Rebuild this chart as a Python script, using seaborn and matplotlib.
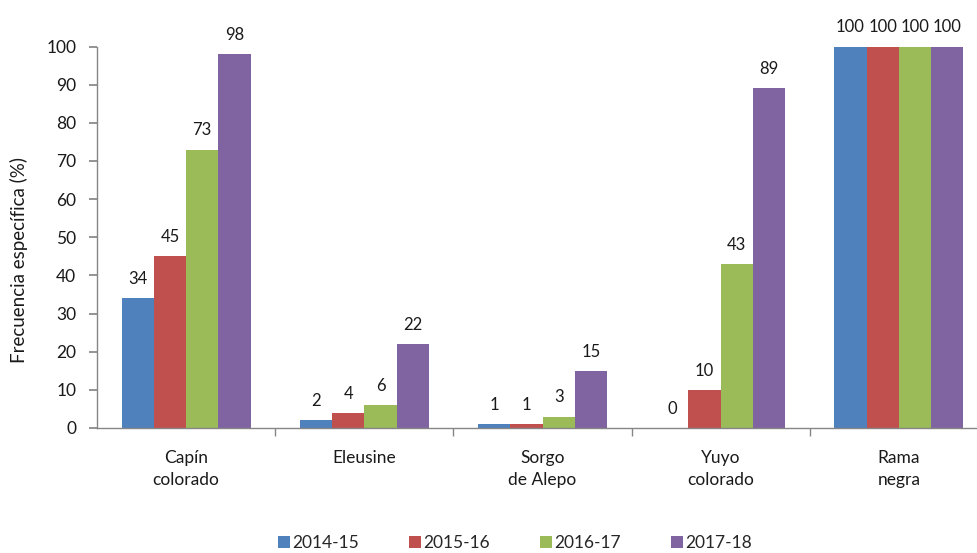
import pandas as pd
import matplotlib.pyplot as plt
import seaborn as sns

# Datos
especies = ['Capín\ncolorado', 'Eleusine', 'Sorgo\nde Alepo', 'Yuyo\ncolorado', 'Rama\nnegra']
campanias = ['2014-15', '2015-16', '2016-17', '2017-18']
v_2014 = [34, 2, 1, 0, 100]
v_2015 = [45, 4, 1, 10, 100]
v_2016 = [73, 6, 3, 43, 100]
v_2017 = [98, 22, 15, 89, 100]

colores = ['#4F81BD', '#C0504D', '#9BBB59', '#8064A2']

df = pd.DataFrame({'Especie': especies, '2014-15': v_2014, '2015-16': v_2015,
                   '2016-17': v_2016, '2017-18': v_2017})
df_plot = df.melt(id_vars='Especie', value_vars=campanias,
                  var_name='Campaña', value_name='Frecuencia')

sns.set_theme(style='white')
plt.rcParams['font.family'] = ['Lato', 'DejaVu Sans']

fig = plt.figure(figsize=(9.77, 5.53), dpi=100)
ax = fig.add_axes([97 / 977, 125 / 553, 891 / 977, 381.5 / 553])

sns.barplot(data=df_plot, x='Especie', y='Frecuencia', hue='Campaña',
            palette=colores, width=0.725, saturation=1, ax=ax, linewidth=0)

for cont in ax.containers:
    ax.bar_label(cont, fmt='%d', padding=8, fontsize=12, color='#1a1a1a')

gris = '#868686'
ax.set_xlim(-0.5, 4.5)
ax.set_ylim(0, 100)
ax.set_yticks(range(0, 101, 10))
ax.tick_params(axis='y', labelsize=12.5, length=6, color=gris, direction='out',
               left=True, labelcolor='#1a1a1a', pad=9)
ax.set_xticks(range(5))
ax.set_xticklabels(especies, fontsize=12.5, color='#1a1a1a', linespacing=1.45)
ax.tick_params(axis='x', length=0, pad=16)
ax.set_xticks([0.5, 1.5, 2.5, 3.5], minor=True)
ax.tick_params(axis='x', which='minor', length=6, color=gris, direction='out',
               bottom=True)

for lado in ['top', 'right']:
    ax.spines[lado].set_visible(False)
for lado in ['left', 'bottom']:
    ax.spines[lado].set_color(gris)
    ax.spines[lado].set_linewidth(1)

ax.set_xlabel('')
ax.set_ylabel('Frecuencia específica (%)', fontsize=13.5, color='#1a1a1a')
ax.yaxis.set_label_coords(-0.078, 0.44)

leg = ax.legend(loc='center', bbox_to_anchor=(515 / 977, 10 / 553),
                bbox_transform=fig.transFigure, ncol=4, frameon=False,
                fontsize=12.5, handlelength=0.7, handleheight=0.7,
                handletextpad=0.15, columnspacing=2.85)

plt.savefig('out.png', dpi=100)
